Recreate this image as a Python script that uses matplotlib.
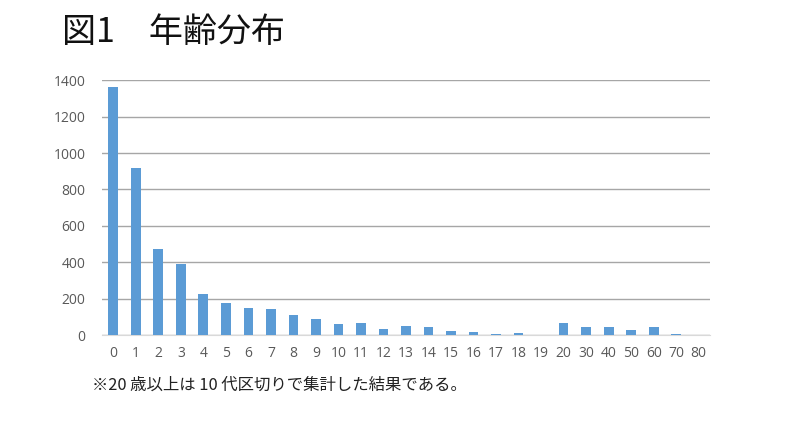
import numpy as np
import matplotlib.pyplot as plt

# Age categories and counts
ages = ['0', '1', '2', '3', '4', '5', '6', '7', '8', '9', '10', '11', '12',
        '13', '14', '15', '16', '17', '18', '19', '20', '30', '40', '50',
        '60', '70', '80']
counts = [1365, 920, 472, 390, 225, 178, 150, 143, 110, 88, 63, 65, 35,
          50, 45, 20, 15, 5, 10, 3, 65, 47, 45, 28, 45, 8, 3]
yticks = [0, 200, 400, 600, 800, 1000, 1200, 1400]

plt.rcParams['font.family'] = ['Noto Sans CJK JP', 'DejaVu Sans']

fig = plt.figure(figsize=(8, 4.22), dpi=100)
ax = fig.add_axes([0.1275, 0.206, 0.76, 0.604])

x = np.arange(len(ages))
ax.bar(x, counts, width=0.43, color='#5B9BD5', zorder=3)

ax.set_xlim(-0.5, len(ages) - 0.5)
ax.set_ylim(0, 1400)
ax.set_yticks(yticks)
ax.set_xticks(x)
ax.set_xticklabels(ages)
ax.grid(axis='y', color='#A6A6A6', linewidth=1, zorder=0)
for s in ['top', 'right', 'left']:
    ax.spines[s].set_visible(False)
ax.spines['bottom'].set_color('#D9D9D9')
ax.tick_params(length=0, labelsize=10, colors='#595959')
ax.tick_params(axis='y', pad=12)
ax.tick_params(axis='x', pad=8)
for lbl in ax.get_xticklabels() + ax.get_yticklabels():
    lbl.set_family(['Open Sans', 'DejaVu Sans'])

fig.text(0.077, 0.924, '図1\u3000年齢分布', fontsize=24.5, fontweight='normal',
         va='center', ha='left', color='#111111')
fig.text(0.115, 0.088, '※20 歳以上は 10 代区切りで集計した結果である。',
         fontsize=11.8, va='center', ha='left', color='#222222')

plt.savefig('out.png', dpi=100)
